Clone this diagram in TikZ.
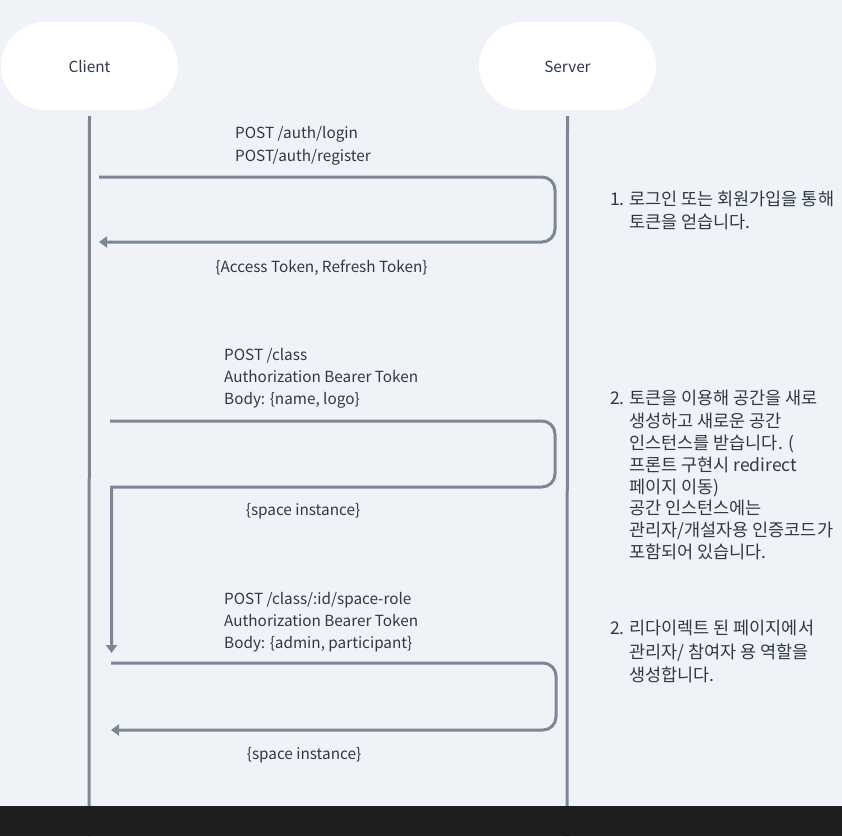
\documentclass[tikz,border=0pt]{standalone}
\usepackage{fontspec}
\setmainfont{Noto Sans CJK KR}
\usetikzlibrary{arrows.meta}
\definecolor{bgc}{HTML}{EFF3F7}
\definecolor{linec}{HTML}{7B8796}
\definecolor{txtc}{HTML}{2E3846}
\definecolor{barc}{HTML}{1E1E1E}
\tikzset{
  pill/.style={draw=none, fill=white, rounded corners=44pt, minimum width=177pt, minimum height=88pt, inner sep=0pt, text=txtc, font=\fontsize{15.3}{18}\selectfont},
  life/.style={draw=linec, line width=3pt},
  flow/.style={draw=linec, line width=3pt, -{Triangle[length=8pt,width=11pt]}},
  lbl/.style={anchor=base west, inner sep=0pt, text=txtc, font=\fontsize{15.3}{18}\selectfont},
  clbl/.style={anchor=base, inner sep=0pt, text=txtc, font=\fontsize{15.3}{18}\selectfont},
  note/.style={anchor=base west, inner sep=0pt, text=txtc, font=\fontsize{17.5}{20}\selectfont},
}
\begin{document}
\begin{tikzpicture}[x=1pt,y=-1pt]
\fill[bgc] (0,0) rectangle (842,836);
\useasboundingbox (0,0) rectangle (842,836);
% actors
\node[pill] (client) at (89.5,66) {\raisebox{-6pt}[0pt][0pt]{Client}};
\node[pill] (server) at (567.5,66) {\raisebox{-6pt}[0pt][0pt]{Server}};
\coordinate (clend) at (89,836);
\coordinate (svend) at (567,836);
\draw[life] ([yshift=-6pt]client.south) -- (clend);
\draw[life] ([yshift=-6pt]server.south) -- (svend);
% flow 1
\coordinate (a1s) at (99,177);
\coordinate (a1r1) at (555,177);
\coordinate (a1r2) at (555,242);
\coordinate (a1e) at (99,242);
\draw[flow, rounded corners=13pt] (a1s) -- (a1r1) -- (a1r2) -- (a1e);
\node[lbl] (t1a) at (235,138) {POST /auth/login};
\node[lbl] (t1b) at (235,161) {POST/auth/register};
\node[clbl] (t1c) at (321.5,272) {\{Access Token, Refresh Token\}};
% flow 2
\coordinate (a2s) at (110,421);
\coordinate (a2r1) at (555,421);
\coordinate (a2r2) at (555,487);
\coordinate (a2l) at (111.5,487);
\coordinate (a2e) at (111.5,653);
\draw[flow] (a2s) [rounded corners=13pt] -- (a2r1) -- (a2r2) [sharp corners] -- (a2l) -- (a2e);
\node[lbl] (t2a) at (224,360) {POST /class};
\node[lbl] (t2b) at (224,382) {Authorization Bearer Token};
\node[lbl] (t2c) at (224,404) {Body: \{name, logo\}};
\node[clbl] (t2d) at (303,515) {\{space instance\}};
% flow 3
\coordinate (a3s) at (111,663);
\coordinate (a3r1) at (556,663);
\coordinate (a3r2) at (556,730);
\coordinate (a3e) at (111,730);
\draw[flow, rounded corners=13pt] (a3s) -- (a3r1) -- (a3r2) -- (a3e);
\node[lbl] (t3a) at (224,604) {POST /class/:id/space-role};
\node[lbl] (t3b) at (224,626) {Authorization Bearer Token};
\node[lbl] (t3c) at (224,648) {Body: \{admin, participant\}};
\node[clbl] (t3d) at (304,759) {\{space instance\}};
% notes
\node[note] (n1n) at (610,205.5) {1.};
\node[note] (n1a) at (629,205.5) {로그인 또는 회원가입을 통해};
\node[note] (n1b) at (629,228.5) {토큰을 얻습니다.};
\node[note] (n2n) at (610,404.5) {2.};
\node[note] (n2a) at (629,404.5) {토큰을 이용해 공간을 새로};
\node[note] (n2b) at (629,427.5) {생성하고 새로운 공간};
\node[note] (n2c) at (629,449.5) {인스턴스를 받습니다. (};
\node[note] (n2d) at (629,471.5) {프론트 구현시 redirect};
\node[note] (n2e) at (629,493.5) {페이지 이동)};
\node[note] (n2f) at (629,514.5) {공간 인스턴스에는};
\node[note] (n2g) at (629,536.5) {관리자/개설자용 인증코드가};
\node[note] (n2h) at (629,558.5) {포함되어 있습니다.};
\node[note] (n3n) at (610,634.5) {2.};
\node[note] (n3a) at (629,634.5) {리다이렉트 된 페이지에서};
\node[note] (n3b) at (629,658.5) {관리자/ 참여자 용 역할을};
\node[note] (n3c) at (629,681.5) {생성합니다.};
% bottom bar
\fill[barc] (0,806) rectangle (842,836);
\end{tikzpicture}
\end{document}
